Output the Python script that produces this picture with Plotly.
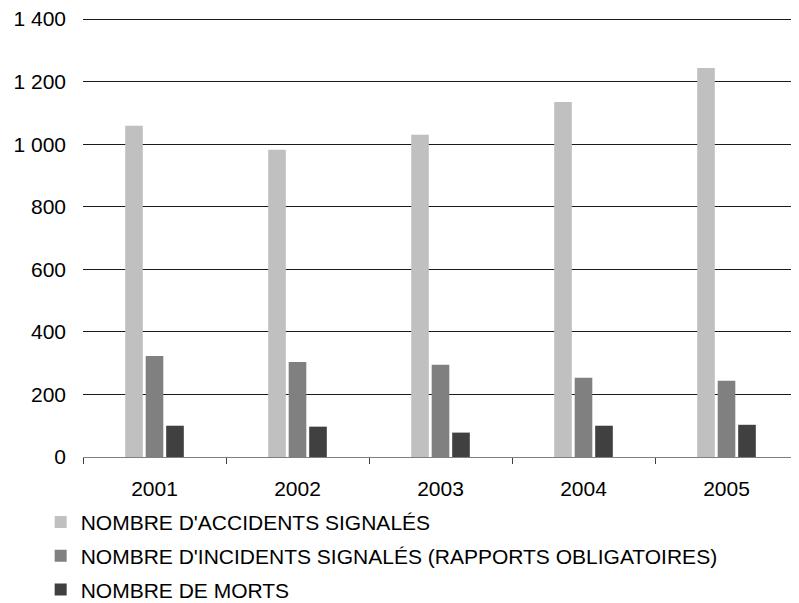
import plotly.graph_objects as go

years = ["2001", "2002", "2003", "2004", "2005"]
accidents = [1059, 982, 1030, 1135, 1244]
incidents = [323, 304, 295, 253, 244]
morts = [100, 97, 78, 100, 103]

series_names = [
    "NOMBRE D'ACCIDENTS SIGNALÉS",
    "NOMBRE D'INCIDENTS SIGNALÉS (RAPPORTS OBLIGATOIRES)",
    "NOMBRE DE MORTS",
]
series_values = [accidents, incidents, morts]
series_colors = ["#c0c0c0", "#808080", "#404040"]

y_tickvals = [0, 200, 400, 600, 800, 1000, 1200, 1400]
y_ticktext = ["0", "200", "400", "600", "800", "1 000", "1 200", "1 400"]

FONT = "Liberation Sans, Arial, sans-serif"

fig = go.Figure()
for i, (name, vals, col) in enumerate(zip(series_names, series_values, series_colors)):
    fig.add_trace(go.Bar(
        x=years, y=vals, name=name, marker=dict(color=col, line=dict(width=0)),
        legendgroup=f"g{i}",
    ))

fig.update_layout(
    width=791, height=595,
    margin=dict(l=75, r=1, t=7.6, b=145.5, autoexpand=False),
    paper_bgcolor="white", plot_bgcolor="white",
    font=dict(family=FONT, size=21, color="black"),
    barmode="group", bargap=0.57, bargroupgap=0.14,
    showlegend=True,
    legend=dict(
        orientation="v", xref="container", yref="container",
        x=0.0413, xanchor="left", y=0.170, yanchor="top",
        font=dict(family=FONT, size=21, color="black"),
        tracegroupgap=3.5, bgcolor="rgba(0,0,0,0)",
        itemwidth=30,
    ),
)
fig.update_xaxes(
    showline=True, linecolor="#808080", linewidth=1,
    ticks="outside", tickson="boundaries", ticklen=6, tickcolor="#404040",
    showgrid=False, ticklabelstandoff=13, tickangle=0,
    tickfont=dict(family=FONT, size=21, color="black"),
)
fig.update_yaxes(
    range=[0, 1410], tickvals=y_tickvals, ticktext=y_ticktext,
    showgrid=True, gridcolor="#1a1a1a", gridwidth=1,
    zeroline=False, showline=False, ticks="", ticklabelstandoff=16,
    ticklabeloverflow="allow",
    tickfont=dict(family=FONT, size=21, color="black"),
)

fig.write_html("out.html")
